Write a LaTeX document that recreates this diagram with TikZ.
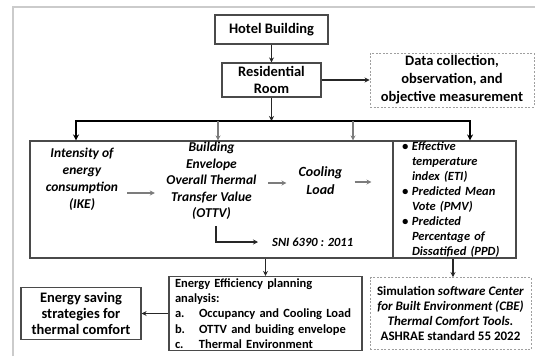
\documentclass[tikz,border=0pt]{standalone}
\usepackage{xcolor}
\usepackage{fontspec}
\setmainfont{Carlito}
\usepackage{tikz}
\usetikzlibrary{arrows.meta, positioning}

\definecolor{boxline}{HTML}{4A4A4A}
\definecolor{frameline}{HTML}{CBCBCB}
\definecolor{softline}{HTML}{7C7C7C}
\newcommand{\fsz}[2]{\fontsize{#1}{#2}\selectfont}
\newcommand{\bul}{\makebox[14pt][l]{\hspace{4pt}\textbullet}}
\newcommand{\cont}{\hspace*{14pt}}
\newcommand{\lab}[1]{\makebox[24pt][l]{#1}}

\begin{document}
\begin{tikzpicture}[x=1pt, y=-1pt, on grid,
  box/.style={draw=boxline, line width=1.1pt, align=center, inner sep=0pt},
  dbox/.style={draw=gray!75, dashed, dash pattern=on 2pt off 1.6pt, line width=0.9pt, align=center, inner sep=0pt},
  txt/.style={align=center, inner sep=3pt},
  flow/.style={draw=black!85, line width=1.3pt, -{Stealth[length=5pt,width=5pt]}},
  bus/.style={draw=black, line width=2.2pt},
  soft/.style={draw=softline, line width=1.7pt, -{Stealth[length=5pt,width=5pt]}}]
  \useasboundingbox (0,0) rectangle (535,356);
  \draw[frameline, line width=2pt] (12.5,356) -- (12.5,6.5) -- (535,6.5);

  % top of the chart
  \node[box, minimum width=113pt, minimum height=29pt, font=\fsz{14.5}{17}\bfseries] (hotel) at (271.5,29.5) {Hotel Building};
  \node[box, minimum width=99pt, minimum height=34pt, font=\fsz{14.5}{17}\bfseries] (room) [below=50.5pt of hotel] {Residential\\Room};
  \node[dbox, minimum width=164pt, minimum height=54pt, font=\fsz{14.5}{18}\bfseries] (data) [right=180.5pt of room] {Data collection,\\observation, and\\objective measurement};

  % parameters
  \node[box, minimum width=363pt, minimum height=117pt] (params) [below left=119.5pt and 60pt of room] {};
  \node[box, minimum width=123pt, minimum height=117pt, text width=113pt, inner xsep=5pt, align=left, font=\fsz{12.5}{15}\bfseries\itshape] (pmv) [right=243pt of params]
    {\bul Effective\\ \cont temperature\\ \cont index (ETI)\\ \bul Predicted Mean\\ \cont Vote (PMV)\\ \bul Predicted\\ \cont Percentage of\\ \cont Dissatified (PPD)};
  \node[txt, font=\fsz{13.5}{17}\bfseries\itshape] (ike) [above left=20pt and 129.5pt of params] {Intensity of\\energy\\consumption\\(IKE)};
  \node[txt, font=\fsz{13.5}{16.5}\bfseries\itshape] (ottv) [above=18.5pt of params] {Building\\Envelope\\Overall Thermal\\Transfer Value\\(OTTV)};
  \node[txt, font=\fsz{14}{18}\bfseries\itshape] (cool) [right=109pt of ottv] {Cooling\\Load};
  \node[txt, anchor=west, font=\fsz{12.5}{15}\bfseries\itshape] (sni) at (269,242) {SNI 6390 : 2011};

  % bottom row
  \node[box, minimum width=193pt, minimum height=74pt, text width=181pt, inner xsep=6pt, align=left, font=\fsz{12.5}{15.2}\bfseries] (plan) [below right=114pt and 54pt of params]
    {Energy Efficiency planning\\analysis:\\\lab{a.}Occupancy and Cooling Load\\\lab{b.}OTTV and buiding envelope\\\lab{c.}Thermal Environment};
  \node[box, minimum width=120pt, minimum height=52pt, font=\fsz{14.5}{16}\bfseries] (save) [left=184.5pt of plan] {Energy saving\\strategies for\\thermal comfort};
  \node[dbox, minimum width=161pt, minimum height=72pt, font=\fsz{13}{15.3}\bfseries] (cbe) [right=185pt of plan]
    {Simulation \textit{software Center}\\\textit{for Built Environment (CBE)}\\\textit{Thermal Comfort Tools.}\\ASHRAE standard 55 2022};

  \coordinate (busL) at (76,121);
  \coordinate (busR) at (470,121);
  \coordinate (drop2) at (218,121);
  \coordinate (drop3) at (353,121);

  \path[flow]
  (hotel) edge (room)
  (room) edge (data)
  (room) edge (room |- busL);
  \draw[bus, {Stealth[length=6pt,width=6pt]}-{Stealth[length=6pt,width=6pt]}]
    (busL |- params.north) -- (busL) -- (busR) -- (busR |- pmv.north);
  \draw[soft, line width=1.3pt] (drop2) -- (drop2 |- params.north);
  \draw[soft, line width=1.3pt] (drop3) -- (drop3 |- params.north);

  \draw[soft, shorten <=6pt, shorten >=8.5pt] ([yshift=-13.5pt]ike.east) -- ([yshift=-13.5pt]ike.east -| ottv.west);
  \draw[soft, shorten <=8.5pt, shorten >=9pt] ([yshift=-2pt]ottv.east) -- ([yshift=-2pt]ottv.east -| cool.west);
  \draw[soft, shorten <=9pt, shorten >=21pt] ([yshift=-1pt]cool.east) -- ([yshift=-1pt]cool.east -| pmv.west);
  \draw[flow, shorten <=3pt, shorten >=11pt] ([xshift=4.5pt]ottv.south) |- (sni.west);

  \draw[flow] (params.south -| plan.north) -- (plan.north);
  \draw[flow] (plan) -- (save);
  \draw[flow] ([xshift=-1.5pt]pmv.south) -- ([xshift=-1.5pt]pmv.south |- cbe.north);
\end{tikzpicture}
\end{document}
